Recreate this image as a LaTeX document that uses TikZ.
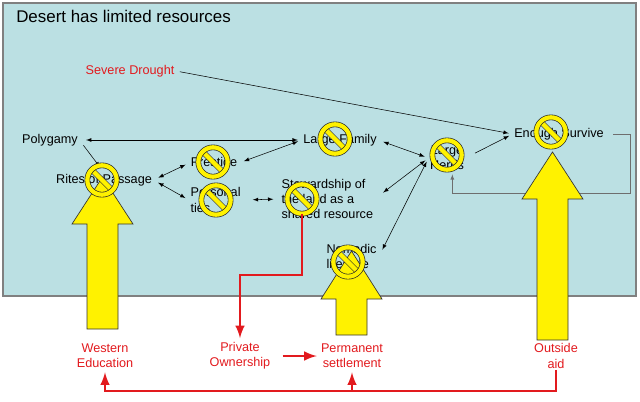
\documentclass[tikz,border=0pt]{standalone}
\usepackage{fontspec}
\setmainfont{Liberation Sans}
\usetikzlibrary{calc,arrows}

\definecolor{desertblue}{RGB}{187,224,227}
\definecolor{causered}{RGB}{226,26,30}
\definecolor{loopgray}{RGB}{110,110,110}

\tikzset{
  factor/.style={font=\fontsize{9.5}{11.5}\selectfont, inner sep=1pt},
  outside/.style={factor, text=causered, align=center},
  link/.style={latex-latex, thin, shorten <=3pt, shorten >=3pt},
  lead/.style={-latex, thin, shorten <=3pt, shorten >=3pt},
  redlink/.style={-latex, causered, line width=2.2pt, shorten >=2pt},
  yarrow/.style={fill=yellow, draw=black!80, line width=0.5pt},
  nosign/.style={circle, minimum size=22pt, inner sep=0pt, draw=black!85,
    double=yellow, double distance=3.2pt, line width=0.5pt,
    path picture={\draw[black!85, double=yellow, double distance=3.2pt, line width=0.5pt]
      (path picture bounding box.north west) -- (path picture bounding box.south east);}}
}

\begin{document}
\begin{tikzpicture}[x=0.75pt,y=-0.75pt]
	\useasboundingbox (0,0) rectangle (640,401);
	\draw[fill=desertblue, draw=gray, line width=0.8pt] (3,3) rectangle (636,296);
	\node[anchor=base west, inner sep=0pt, font=\fontsize{12.7}{15}\selectfont] (title) at (16,22.5) {Desert has limited resources};

	% factors inside the desert
	\node[factor, text=causered] (drought) at (130,71) {Severe Drought};
	\node[factor] (polygamy) at (50,140) {Polygamy};
	\node[factor] (family) at (340,140) {Large Family};
	\node[factor] (rites) at (104,180) {Rites of Passage};
	\node[factor] (prestige) at (214,163) {Prestige};
	\node[factor, anchor=west, align=left] (personal) at (189,200) {Personal\\ties};
	\node[factor, anchor=west, align=left] (steward) at (280,199) {Stewardship of\\the land as a\\shared resource};
	\node[factor, anchor=west, align=left] (nomadic) at (325,258) {Nomadic\\lifestyle};
	\node[factor, align=center] (herds) at (447,158) {Large\\Herds};
	\node[factor] (survive) at (559,134) {Enough Survive};

	% outside forces
	\node[outside] (western) at (105,356) {Western\\Education};
	\node[outside] (private) at (240,356) {Private\\Ownership};
	\node[outside] (settle) at (352,356) {Permanent\\settlement};
	\node[outside] (aid) at (556,356) {Outside\\aid};

	\draw[link, shorten <=5pt] (polygamy.east) -- (family.west);
	\draw[lead, shorten <=5pt, shorten >=5pt] (polygamy.east) -- (rites.north);
	\draw[link, shorten <=4pt] (rites.east) -- (prestige.west);
	\draw[link, shorten <=4pt] (rites.east) -- (personal.west);
	\draw[link, shorten <=4pt] (prestige.east) -- (family.west);
	\draw[link, shorten <=8pt, shorten >=5pt] (personal.east) -- (steward.west);
	\draw[link, shorten <=4pt] (family.east) -- (herds.west);
	\draw[link, shorten <=8pt] (steward.east) -- (herds.west);
	\draw[link, shorten <=7pt] (nomadic.east) -- (herds.west);
	\draw[lead, shorten <=8pt] (herds.east) -- (survive.west);
	\draw[lead] (drought.east) -- (survive.west);
	\coordinate (loop) at (630,193);
	\draw[-latex, loopgray, thin, shorten <=6pt, shorten >=2pt] (survive.east) -| (loop) -| ([xshift=4pt]herds.south);

	% big yellow arrows
	\filldraw[yarrow] (87,329) -- (87,224) -- (72,224) -- (102.5,177) -- (133,224) -- (118,224) -- (118,329) -- cycle;
	\filldraw[yarrow] (336,335) -- (336,299) -- (321,299) -- (351.5,251) -- (382,299) -- (367,299) -- (367,335) -- cycle;
	\filldraw[yarrow] (537,340) -- (537,199) -- (522,199) -- (552.5,152) -- (583,199) -- (568,199) -- (568,340) -- cycle;

	% no signs
	\node[nosign] (nrites) at (102,180) {};
	\node[nosign] (nprestige) at (213,162) {};
	\node[nosign] (npersonal) at (216,200) {};
	\node[nosign] (nfamily) at (335,139) {};
	\node[nosign] (nsteward) at (302,199) {};
	\node[nosign] (nnomadic) at (348,262) {};
	\node[nosign] (nherds) at (447,155) {};
	\node[nosign] (nsurvive) at (551,132) {};

	\coordinate (hook) at (240,275);
	\coordinate (rail) at (0,391);
	\draw[redlink] (nsteward.south) |- (hook) -- (private.north);
	\draw[redlink, shorten <=8pt] (private.east) -- (settle.west);
	\draw[redlink] (aid.south) -- (aid.south |- rail) -| (western.south);
	\draw[redlink] (settle.south |- rail) -- (settle.south);
\end{tikzpicture}
\end{document}
